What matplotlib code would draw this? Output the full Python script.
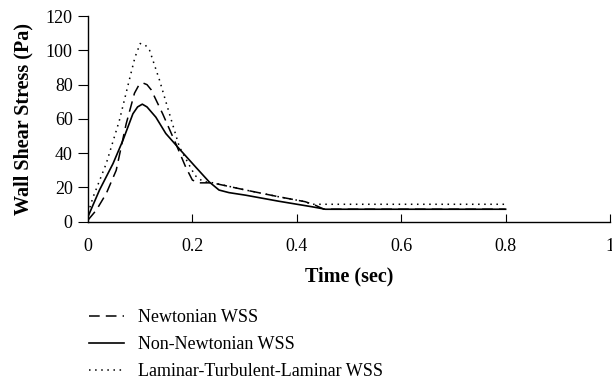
import matplotlib
matplotlib.use('Agg')
import matplotlib.pyplot as plt

plt.rcParams['font.family'] = ['Liberation Serif', 'DejaVu Serif']

# Newtonian WSS (dashed)
t_newt = [0.0, 0.016, 0.035, 0.054, 0.073, 0.089, 0.097, 0.105, 0.113, 0.121, 0.143,
          0.168, 0.187, 0.200, 0.213, 0.238, 0.302, 0.365, 0.416, 0.435, 0.452, 0.8]
v_newt = [1.0, 6.8, 16.5, 30.0, 57.0, 75.0, 79.5, 81.0, 80.0, 77.0, 63.0,
          45.7, 32.0, 24.3, 22.7, 22.7, 18.5, 14.6, 11.7, 9.7, 7.3, 7.3]

# Non-Newtonian WSS (solid)
t_nonn = [0.0, 0.022, 0.048, 0.067, 0.086, 0.095, 0.104, 0.113, 0.130, 0.149, 0.175,
          0.206, 0.232, 0.251, 0.270, 0.302, 0.365, 0.430, 0.455, 0.8]
v_nonn = [3.0, 18.5, 34.0, 47.6, 63.0, 67.0, 68.6, 67.0, 61.0, 51.5, 42.5,
          32.0, 23.3, 18.5, 17.0, 15.5, 12.0, 8.7, 7.3, 7.3]

# Laminar-Turbulent-Laminar WSS (dotted)
t_ltl = [0.0, 0.010, 0.035, 0.060, 0.079, 0.090, 0.100, 0.110, 0.118, 0.137, 0.156,
         0.175, 0.194, 0.205, 0.220, 0.240, 0.302, 0.365, 0.416, 0.428, 0.8]
v_ltl = [5.0, 14.6, 34.0, 59.0, 82.6, 96.0, 104.0, 103.0, 100.0, 82.6, 63.0,
         43.7, 33.0, 27.0, 23.5, 22.7, 18.5, 14.6, 11.7, 10.2, 10.2]

labels = ['Newtonian WSS', 'Non-Newtonian WSS', 'Laminar-Turbulent-Laminar WSS']

fig = plt.figure(figsize=(6.12, 3.83), dpi=100)
ax = fig.add_axes([0.1438, 0.421, 0.853, 0.537])

ax.plot(t_newt, v_newt, color='black', lw=1.1, dashes=(7, 4), label=labels[0])
ax.plot(t_nonn, v_nonn, color='black', lw=1.2, label=labels[1])
ax.plot(t_ltl, v_ltl, color='black', lw=1.1, dashes=(1, 3), label=labels[2])

ax.set_xlim(0, 1)
ax.set_ylim(0, 120)
ax.set_xticks([0, 0.2, 0.4, 0.6, 0.8, 1])
ax.set_xticklabels(['0', '0.2', '0.4', '0.6', '0.8', '1'])
ax.set_yticks(range(0, 121, 20))

for s in ['top', 'right']:
    ax.spines[s].set_visible(False)
ax.spines['left'].set_linewidth(1.0)
ax.spines['bottom'].set_linewidth(1.0)
ax.tick_params(axis='x', direction='in', length=6, labelsize=13, pad=12)
ax.tick_params(axis='y', direction='out', length=7, labelsize=13, pad=4)

ax.set_xlabel('Time (sec)', fontsize=14.5, fontweight='bold', labelpad=8)
ax.set_ylabel('Wall Shear Stress (Pa)', fontsize=14.5, fontweight='bold', labelpad=9)

fig.legend(loc='upper left', bbox_to_anchor=(0.134, 0.212), frameon=False,
           fontsize=13, handlelength=1.95, handletextpad=0.75, labelspacing=0.55,
           borderaxespad=0)

fig.savefig('out.png', dpi=100)
